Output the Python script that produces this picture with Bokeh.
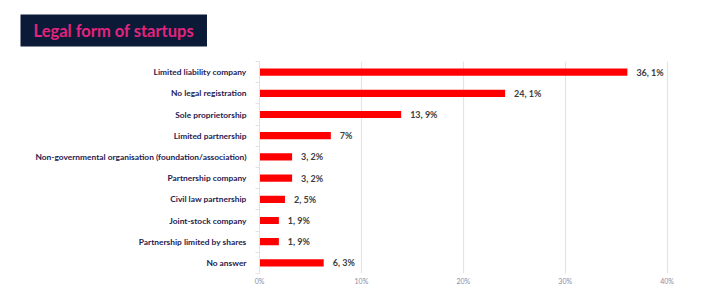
from bokeh.plotting import figure
from bokeh.models import Range1d, FixedTicker, ColumnDataSource
from bokeh.embed import file_html
from bokeh.resources import INLINE
from bokeh.core.properties import value

categories = [
    "Limited liability company",
    "No legal registration",
    "Sole proprietorship",
    "Limited partnership",
    "Non-governmental organisation (foundation/association)",
    "Partnership company",
    "Civil law partnership",
    "Joint-stock company",
    "Partnership limited by shares",
    "No answer",
]
values = [36.1, 24.1, 13.9, 7.0, 3.2, 3.2, 2.5, 1.9, 1.9, 6.3]
value_labels = ["36, 1%", "24, 1%", "13, 9%", "7%", "3, 2%", "3, 2%", "2, 5%", "1, 9%", "1, 9%", "6, 3%"]
x_ticks = [0, 10, 20, 30, 40]
x_tick_labels = ["0%", "10%", "20%", "30%", "40%"]

n = len(categories)
ypos = [n - 1 - i for i in range(n)]

src = ColumnDataSource(dict(y=ypos, v=values, lab=value_labels, cat=categories))

FRAME_LEFT = 259
FRAME_BOTTOM = 273

p = figure(width=720, height=303, x_range=Range1d(0, 42), y_range=Range1d(-0.5, n - 0.5),
           output_backend="svg", toolbar_location=None,
           min_border_left=FRAME_LEFT, min_border_right=33, min_border_top=61,
           min_border_bottom=303 - FRAME_BOTTOM)
p.outline_line_color = None
p.background_fill_color = "white"

p.hbar(y="y", right="v", left=0, height=0.34, source=src, color="#fe0000", line_color=None)
p.text(x="v", y="y", text="lab", source=src, x_offset=9, text_baseline="middle",
       text_font=value("Lato"), text_font_style="bold", text_font_size="9px", text_color="#3d3d3d")

# x axis
p.xaxis.ticker = FixedTicker(ticks=x_ticks)
p.xaxis.major_label_overrides = {t: l for t, l in zip(x_ticks, x_tick_labels)}
p.xaxis.axis_line_color = None
p.xaxis.major_tick_line_color = None
p.xaxis.major_tick_out = 0
p.xaxis.major_tick_in = 0
p.xaxis.minor_tick_line_color = None
p.xaxis.minor_tick_out = 0
p.xaxis.major_label_text_font = "Lato"
p.xaxis.major_label_text_font_size = "7px"
p.xaxis.major_label_text_color = "#8a8aa6"
p.xaxis.major_label_standoff = 3

p.xgrid.ticker = FixedTicker(ticks=x_ticks)
p.xgrid.grid_line_color = "#e4e4e4"
p.xgrid.grid_line_width = 1.2
p.ygrid.grid_line_color = None

# y axis
p.yaxis.ticker = FixedTicker(ticks=ypos, minor_ticks=[k + 0.5 for k in range(-1, n)])
p.yaxis.major_label_overrides = {y: c for y, c in zip(ypos, categories)}
p.yaxis.axis_line_color = "#e2e2e2"
p.yaxis.major_tick_line_color = None
p.yaxis.major_tick_out = 0
p.yaxis.minor_tick_line_color = "#e2e2e2"
p.yaxis.minor_tick_out = 4
p.yaxis.minor_tick_in = 0
p.yaxis.major_label_standoff = 9
p.yaxis.major_label_text_font = "Lato"
p.yaxis.major_label_text_font_style = "bold"
p.yaxis.major_label_text_font_size = "8.4px"
p.yaxis.major_label_text_color = "#1f2150"

# title box
p.title.text = "Legal form of startups"
p.title.align = "left"
p.title.vertical_align = "top"
p.title.text_font = "Lato"
p.title.text_font_style = "bold"
p.title.text_font_size = "16.5px"
p.title.text_color = "#e3247f"
p.title.background_fill_color = "#0b1a36"
p.title.padding = (13, 6)
p.title.offset = 20 - FRAME_LEFT
p.title.standoff = 26

open("out.html", "w").write(file_html(p, INLINE))
